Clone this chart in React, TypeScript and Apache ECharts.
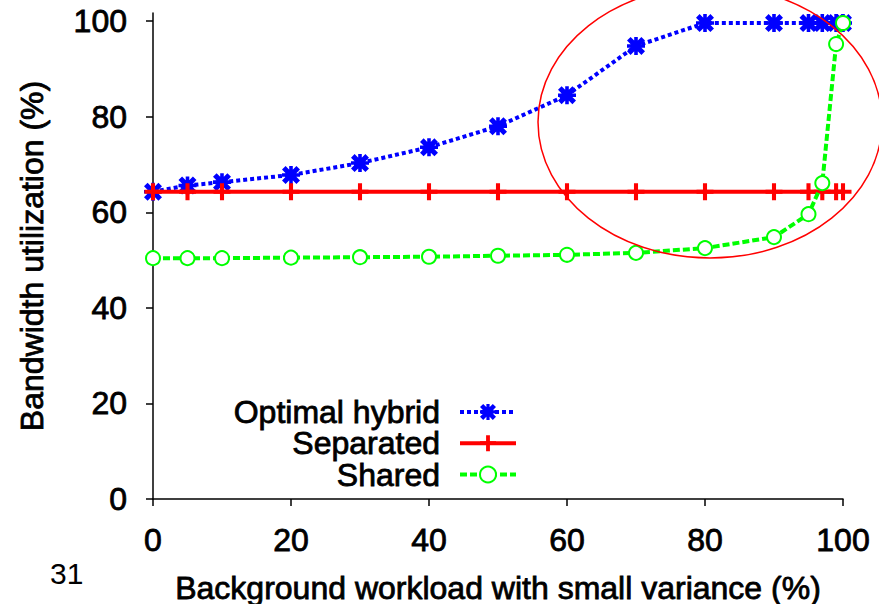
import React, { useEffect, useRef } from "react";
import * as echarts from "echarts";

const xValues = [0, 5, 10, 20, 30, 40, 50, 60, 70, 80, 90, 95, 97, 99, 100];
const optimalHybrid = [64.3, 65.6, 66.3, 67.8, 70.3, 73.6, 78.0, 84.5, 94.8, 99.6, 99.6, 99.6, 99.6, 99.6, 99.6];
const separated = [64.3, 64.3, 64.3, 64.3, 64.3, 64.3, 64.3, 64.3, 64.3, 64.3, 64.3, 64.3, 64.3, 64.3, 64.3];
const shared = [50.4, 50.4, 50.4, 50.5, 50.6, 50.7, 50.9, 51.1, 51.5, 52.5, 54.8, 59.6, 66.1, 95.2, 99.6];
const seriesNames = ["Optimal hybrid", "Separated", "Shared"];
const yTickValues = [0, 20, 40, 60, 80, 100];
const xAxisTitle = "Background workload with small variance (%)";
const yAxisTitle = "Bandwidth utilization (%)";
const pageNumber = "31";

const FONT = "'Liberation Sans', Arial, Helvetica, sans-serif";
const heavy = { textBorderColor: "#000", textBorderWidth: 0.8 };

const starPath =
  "path://M0,4L4,0L10,6L16,0L20,4L14,10L20,16L16,20L10,14L4,20L0,16L6,10Z M8,0H12V20H8Z M0,8H20V12H0Z";
const plusPath = "path://M3.8,0H6.2V3.8H10V6.2H6.2V10H3.8V6.2H0V3.8H3.8Z";

const pairs = (ys: number[]) => xValues.map((x, i) => [x, ys[i]]);

export default function App() {
  const ref = useRef<HTMLDivElement>(null);
  useEffect(() => {
    if (!ref.current) return;
    const chart = echarts.init(ref.current, undefined, { renderer: "svg" });
    chart.setOption({
      animation: false,
      backgroundColor: "#ffffff",
      grid: { left: 153, right: 36, top: 13, bottom: 105, containLabel: false, outerBoundsMode: "none" },
      xAxis: {
        type: "value",
        min: 0,
        max: 100,
        interval: 20,
        name: xAxisTitle,
        nameLocation: "middle",
        nameGap: 73,
        nameTextStyle: { fontFamily: FONT, fontSize: 32, color: "#000", lineHeight: 32, ...heavy },
        axisLine: { show: true, lineStyle: { color: "#000", width: 1.5 } },
        axisTick: { show: true, inside: false, length: 7, lineStyle: { color: "#000", width: 1.5 } },
        axisLabel: { fontFamily: FONT, fontSize: 32, color: "#000", margin: 25, lineHeight: 32, ...heavy },
        splitLine: { show: false },
      },
      yAxis: {
        type: "value",
        min: 0,
        max: 101.7,
        name: yAxisTitle,
        nameLocation: "middle",
        nameGap: 105,
        nameTextStyle: { fontFamily: FONT, fontSize: 32, color: "#000", lineHeight: 32, ...heavy },
        axisLine: { show: true, lineStyle: { color: "#000", width: 1.5 } },
        axisTick: { show: true, inside: false, length: 7, lineStyle: { color: "#000", width: 1.5 }, customValues: yTickValues },
        axisLabel: { fontFamily: FONT, fontSize: 32, color: "#000", margin: 26, customValues: yTickValues, ...heavy },
        splitLine: { show: false },
      },
      legend: {
        orient: "vertical",
        right: 361,
        top: 395.5,
        align: "right",
        padding: 0,
        itemWidth: 56,
        itemHeight: 20,
        itemGap: -1.5,
        data: seriesNames,
        lineStyle: { width: 4 },
        textStyle: { fontFamily: FONT, fontSize: 32, color: "#000", lineHeight: 31, padding: [0, 15, 0, 0], ...heavy },
      },
      graphic: [
        {
          type: "ellipse",
          shape: { cx: 710, cy: 122, rx: 172, ry: 136 },
          style: { fill: "none", stroke: "#ff0000", lineWidth: 1.5 },
          z: 100,
        },
        {
          type: "text",
          left: 50,
          top: 558,
          style: { text: pageNumber, fontFamily: FONT, fontSize: 30, fill: "#000" },
        },
      ],
      series: [
        {
          name: seriesNames[0],
          type: "line",
          data: pairs(optimalHybrid),
          symbol: starPath,
          symbolSize: 18,
          lineStyle: { color: "#0000ff", width: 4, type: [4, 3] },
          itemStyle: { color: "#0000ff", borderWidth: 0 },
          z: 2,
        },
        {
          name: seriesNames[1],
          type: "line",
          data: pairs(separated),
          symbol: plusPath,
          symbolSize: 17,
          lineStyle: { color: "#ff0000", width: 4, type: "solid" },
          itemStyle: { color: "#ff0000", borderWidth: 0 },
          z: 3,
        },
        {
          name: seriesNames[2],
          type: "line",
          data: pairs(shared),
          symbol: "emptyCircle",
          symbolSize: 14,
          lineStyle: { color: "#00ff00", width: 4, type: [7, 3] },
          itemStyle: { color: "#00ff00", borderColor: "#00ff00", borderWidth: 4 },
          z: 4,
        },
      ],
    });
    return () => chart.dispose();
  }, []);
  return (
    <div
      ref={ref}
      style={{ position: "fixed", left: 0, top: 0, width: 879, height: 604, background: "#fff" }}
    />
  );
}
